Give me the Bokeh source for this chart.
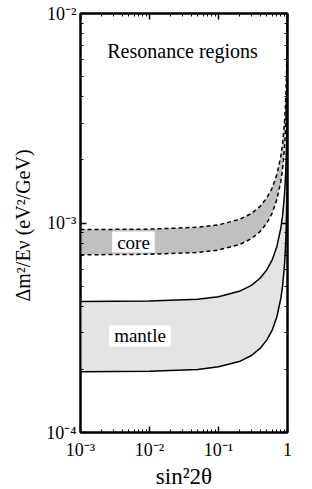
from bokeh.plotting import figure
from bokeh.models import LogAxis, Label, CustomJSTickFormatter, Range1d, FixedTicker
from bokeh.embed import file_html
from bokeh.resources import INLINE

# ---- data ----
sin2_2theta = [0.001, 0.01, 0.05, 0.1, 0.2, 0.3, 0.4, 0.5, 0.6, 0.7, 0.8,
               0.85, 0.9, 0.93, 0.95, 0.97, 0.98, 0.99, 0.995]
core_upper = [9.30e-4, 9.35e-4, 9.54e-4, 9.80e-4, 1.04e-3, 1.11e-3, 1.20e-3,
              1.315e-3, 1.47e-3, 1.70e-3, 2.08e-3, 2.40e-3, 2.94e-3, 3.52e-3,
              4.16e-3, 5.37e-3, 6.58e-3, 9.30e-3, 1.32e-2]
core_lower = [7.05e-4, 7.09e-4, 7.23e-4, 7.43e-4, 7.88e-4, 8.42e-4, 9.10e-4,
              9.97e-4, 1.115e-3, 1.29e-3, 1.58e-3, 1.82e-3, 2.23e-3, 2.66e-3,
              3.15e-3, 4.07e-3, 4.99e-3, 7.05e-3, 9.97e-3]
mantle_upper = [4.22e-4, 4.24e-4, 4.33e-4, 4.45e-4, 4.72e-4, 5.04e-4, 5.45e-4,
                5.97e-4, 6.67e-4, 7.71e-4, 9.44e-4, 1.09e-3, 1.33e-3, 1.60e-3,
                1.89e-3, 2.44e-3, 2.98e-3, 4.22e-3, 5.97e-3]
mantle_lower = [1.95e-4, 1.96e-4, 2.00e-4, 2.06e-4, 2.18e-4, 2.33e-4, 2.52e-4,
                2.76e-4, 3.08e-4, 3.56e-4, 4.36e-4, 5.03e-4, 6.17e-4, 7.37e-4,
                8.72e-4, 1.13e-3, 1.38e-3, 1.95e-3, 2.76e-3]

x_limits = (1e-3, 1.0)
y_limits = (1e-4, 1e-2)
x_major = [1e-3, 1e-2, 1e-1, 1.0]
y_major = [1e-4, 1e-3, 1e-2]
title_text = "Resonance regions"
band_labels = {"core": (5.86e-3, 8.11e-4), "mantle": (7.28e-3, 2.89e-4)}
x_title = "sin²2θ"
y_title = "Δm²/Eν  (eV²/GeV)"

FONT = "Liberation Serif"


def minor_between(majors):
    out = []
    for m in majors[:-1]:
        out += [k * m for k in range(2, 10)]
    return out


x_ticker = FixedTicker(ticks=x_major, minor_ticks=minor_between(x_major))
y_ticker = FixedTicker(ticks=y_major, minor_ticks=minor_between(y_major))

p = figure(frame_width=207, frame_height=419,
           x_axis_type="log", y_axis_type="log",
           x_range=Range1d(*x_limits), y_range=Range1d(*y_limits),
           output_backend="svg", toolbar_location=None,
           min_border_left=80, min_border_right=24,
           min_border_top=13, min_border_bottom=50)
p.grid.visible = False
p.outline_line_color = "black"
p.outline_line_width = 2
p.background_fill_color = "white"
p.border_fill_color = "white"

# bands
p.varea(x=sin2_2theta, y1=core_lower, y2=core_upper, fill_color="#c0c0c0")
p.varea(x=sin2_2theta, y1=mantle_lower, y2=mantle_upper, fill_color="#e4e4e4")
p.line(sin2_2theta, core_upper, line_color="black", line_width=1.5, line_dash="4 3")
p.line(sin2_2theta, core_lower, line_color="black", line_width=1.5, line_dash="4 3")
p.line(sin2_2theta, mantle_upper, line_color="black", line_width=1.5)
p.line(sin2_2theta, mantle_lower, line_color="black", line_width=1.5)

fmt_code = """
const e = Math.round(Math.log10(tick));
if (e === 0) { return "1"; }
const sup = {"-": "\u207b", "0": "\u2070", "1": "\u00b9", "2": "\u00b2",
             "3": "\u00b3", "4": "\u2074", "5": "\u2075"};
return "10" + String(e).split("").map(c => sup[c]).join("");
"""


def style_axis(ax):
    ax.axis_line_color = "black"
    ax.axis_line_width = 2
    ax.major_tick_line_color = "black"
    ax.major_tick_line_width = 1.5
    ax.minor_tick_line_color = "black"
    ax.minor_tick_line_width = 1
    ax.major_tick_in = 6
    ax.major_tick_out = 0
    ax.minor_tick_in = 3
    ax.minor_tick_out = 0


xa = p.xaxis[0]
ya = p.yaxis[0]
xa.ticker = x_ticker
ya.ticker = y_ticker
for ax in (xa, ya):
    style_axis(ax)
    ax.formatter = CustomJSTickFormatter(code=fmt_code)
    ax.major_label_text_font = FONT
    ax.major_label_text_font_size = "18px"
    ax.major_label_text_color = "black"
    ax.axis_label_text_font = FONT
    ax.axis_label_text_font_style = "normal"
    ax.axis_label_text_color = "black"
xa.major_label_standoff = 7
ya.major_label_standoff = 4
xa.axis_label = x_title
xa.axis_label_text_font_size = "23px"
xa.axis_label_standoff = 1
ya.axis_label = y_title
ya.axis_label_text_font_size = "20px"
ya.axis_label_standoff = 9

top = LogAxis(ticker=x_ticker,
              formatter=CustomJSTickFormatter(code="return '';"),
              major_label_text_font_size="0px", major_label_standoff=0)
right = LogAxis(ticker=y_ticker,
                formatter=CustomJSTickFormatter(code="return '';"),
                major_label_text_font_size="0px", major_label_standoff=0)
style_axis(top)
style_axis(right)
p.add_layout(top, "above")
p.add_layout(right, "right")

# texts
p.add_layout(Label(x=0.0301, y=6.62e-3, text=title_text, text_align="center",
                   text_baseline="alphabetic", text_font=FONT,
                   text_font_size="20px", text_color="black"))
for name, (lx, ly) in band_labels.items():
    p.add_layout(Label(x=lx, y=ly, text=name, text_align="center",
                       text_baseline="middle", text_font=FONT,
                       text_font_size="19px", text_color="black",
                       background_fill_color="white", padding=(5, 0)))

open("out.html", "w").write(file_html(p, INLINE))
